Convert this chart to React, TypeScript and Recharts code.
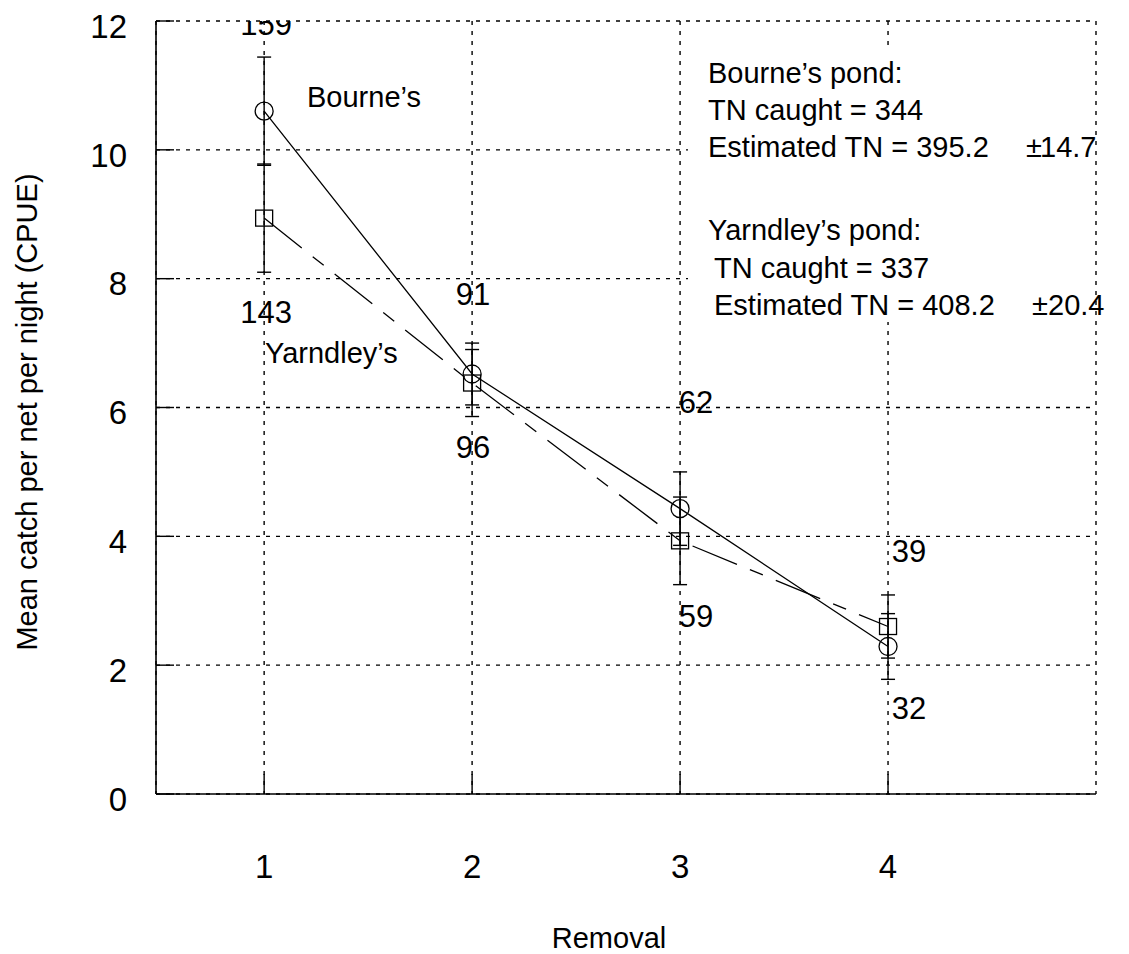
import React from 'react';
import { ScatterChart, Scatter, XAxis, YAxis, CartesianGrid, ErrorBar } from 'recharts';

// ---- data ----
const removals = [1, 2, 3, 4];
const bourneCPUE = [10.6, 6.52, 4.43, 2.29];
const bourneSE = [0.84, 0.48, 0.57, 0.51];
const yarndleyCPUE = [8.94, 6.38, 3.93, 2.6];
const yarndleySE = [0.84, 0.52, 0.68, 0.49];
const countsAbove = [159, 91, 62, 39];
const countsAboveAt = [11.95, 7.76, 6.08, 3.77];
const countsBelow = [143, 96, 59, 32];
const countsBelowAt = [7.49, 5.38, 2.76, 1.33];
const yTicks = [0, 2, 4, 6, 8, 10, 12];
const xTicks = [1, 2, 3, 4];
const xDomain = [0.48, 5];
const yDomain = [0, 12];

const bourneData = removals.map((x, i) => ({ x, y: bourneCPUE[i], err: bourneSE[i] }));
const yarndleyData = removals.map((x, i) => ({ x, y: yarndleyCPUE[i], err: yarndleySE[i] }));
const aboveData = removals.map((x, i) => ({ x, y: countsAboveAt[i], n: countsAbove[i] }));
const belowData = removals.map((x, i) => ({ x, y: countsBelowAt[i], n: countsBelow[i] }));

// ---- styles ----
const FONT = '"Liberation Sans", Arial, Helvetica, sans-serif';
const countDx = [2, 1, 16, 21];
const W = 1129;
const H = 954;

const CircleShape = (p: any) => (
  <circle cx={p.cx} cy={p.cy} r={9} fill="none" stroke="#000" strokeWidth={1.3} />
);
const SquareShape = (p: any) => (
  <rect x={p.cx - 8.5} y={p.cy - 8} width={17} height={16} fill="none" stroke="#000" strokeWidth={1.3} />
);
const CountShape = (p: any) => {
  const idx = removals.indexOf(p.payload.x);
  return (
    <text
      x={p.cx + (countDx[idx] || 0)}
      y={p.cy + 11}
      textAnchor="middle"
      fontSize={31}
      fontFamily={FONT}
      fill="#000"
    >
      {p.payload.n}
    </text>
  );
};

const axisLine = { stroke: '#000', strokeWidth: 1.6 };
const tickLine = { stroke: '#000', strokeWidth: 1.4 };

export default function App() {
  return (
    <div style={{ position: 'absolute', left: 0, top: 0, width: W, height: H, background: '#fff' }}>
      <ScatterChart width={W} height={H} margin={{ top: 21, right: 33, bottom: 0, left: 0 }}>
        <CartesianGrid stroke="#000" strokeDasharray="4 6" strokeWidth={1.4} />
        <XAxis
          type="number"
          dataKey="x"
          domain={xDomain}
          ticks={xTicks}
          height={160}
          allowDataOverflow
          tickSize={-20}
          tickMargin={81}
          axisLine={axisLine}
          tickLine={tickLine}
          tick={{ fontSize: 33, fill: '#000', fontFamily: FONT }}
        />
        <XAxis
          xAxisId="top"
          orientation="top"
          type="number"
          domain={xDomain}
          ticks={xTicks}
          height={0}
          allowDataOverflow
          tick={false}
          tickSize={-20}
          axisLine={axisLine}
          tickLine={tickLine}
        />
        <YAxis
          type="number"
          dataKey="y"
          domain={yDomain}
          ticks={yTicks}
          width={156}
          allowDataOverflow
          tickSize={-18}
          tickMargin={47}
          axisLine={axisLine}
          tickLine={tickLine}
          tick={{ fontSize: 33, fill: '#000', fontFamily: FONT, dy: 5 }}
        />
        <YAxis
          yAxisId="right"
          orientation="right"
          type="number"
          domain={yDomain}
          ticks={yTicks}
          width={0}
          allowDataOverflow
          tick={false}
          tickSize={-20}
          axisLine={axisLine}
          tickLine={tickLine}
        />
        <Scatter
          name="Yarndley's"
          data={yarndleyData}
          shape={SquareShape}
          line={{ stroke: '#000', strokeWidth: 1.3, strokeDasharray: '48 14 14 14' }}
          isAnimationActive={false}
        >
          <ErrorBar dataKey="err" direction="y" width={7} stroke="#000" strokeWidth={1.4} />
        </Scatter>
        <Scatter
          name="Bourne's"
          data={bourneData}
          shape={CircleShape}
          line={{ stroke: '#000', strokeWidth: 1.3 }}
          isAnimationActive={false}
        >
          <ErrorBar dataKey="err" direction="y" width={7} stroke="#000" strokeWidth={1.4} />
        </Scatter>
        <Scatter name="n above" data={aboveData} shape={CountShape} isAnimationActive={false} />
        <Scatter name="n below" data={belowData} shape={CountShape} isAnimationActive={false} />
      </ScatterChart>
      <svg
        width={W}
        height={H}
        style={{ position: 'absolute', left: 0, top: 0, pointerEvents: 'none' }}
        fontFamily={FONT}
        fill="#000"
      >
        <rect x={688} y={46} width={405} height={276} fill="#fff" />
        <g fontSize={29}>
          <text x={708} y={83}>Bourne’s pond:</text>
          <text x={708} y={120}>TN caught = 344</text>
          <text x={708} y={157}>Estimated TN = 395.2</text>
          <text x={1026} y={157}>±</text>
          <text x={1040} y={157}>14.7</text>
          <text x={708} y={240}>Yarndley’s pond:</text>
          <text x={714} y={278}>TN caught = 337</text>
          <text x={714} y={315}>Estimated TN = 408.2</text>
          <text x={1032} y={315}>±</text>
          <text x={1048} y={315}>20.4</text>
          <text x={307} y={107}>Bourne’s</text>
          <text x={265} y={363}>Yarndley’s</text>
          <text x={609} y={948} textAnchor="middle">Removal</text>
          <text x={37} y={412} textAnchor="middle" transform="rotate(-90 37 412)">
            Mean catch per net per night (CPUE)
          </text>
        </g>
      </svg>
    </div>
  );
}
